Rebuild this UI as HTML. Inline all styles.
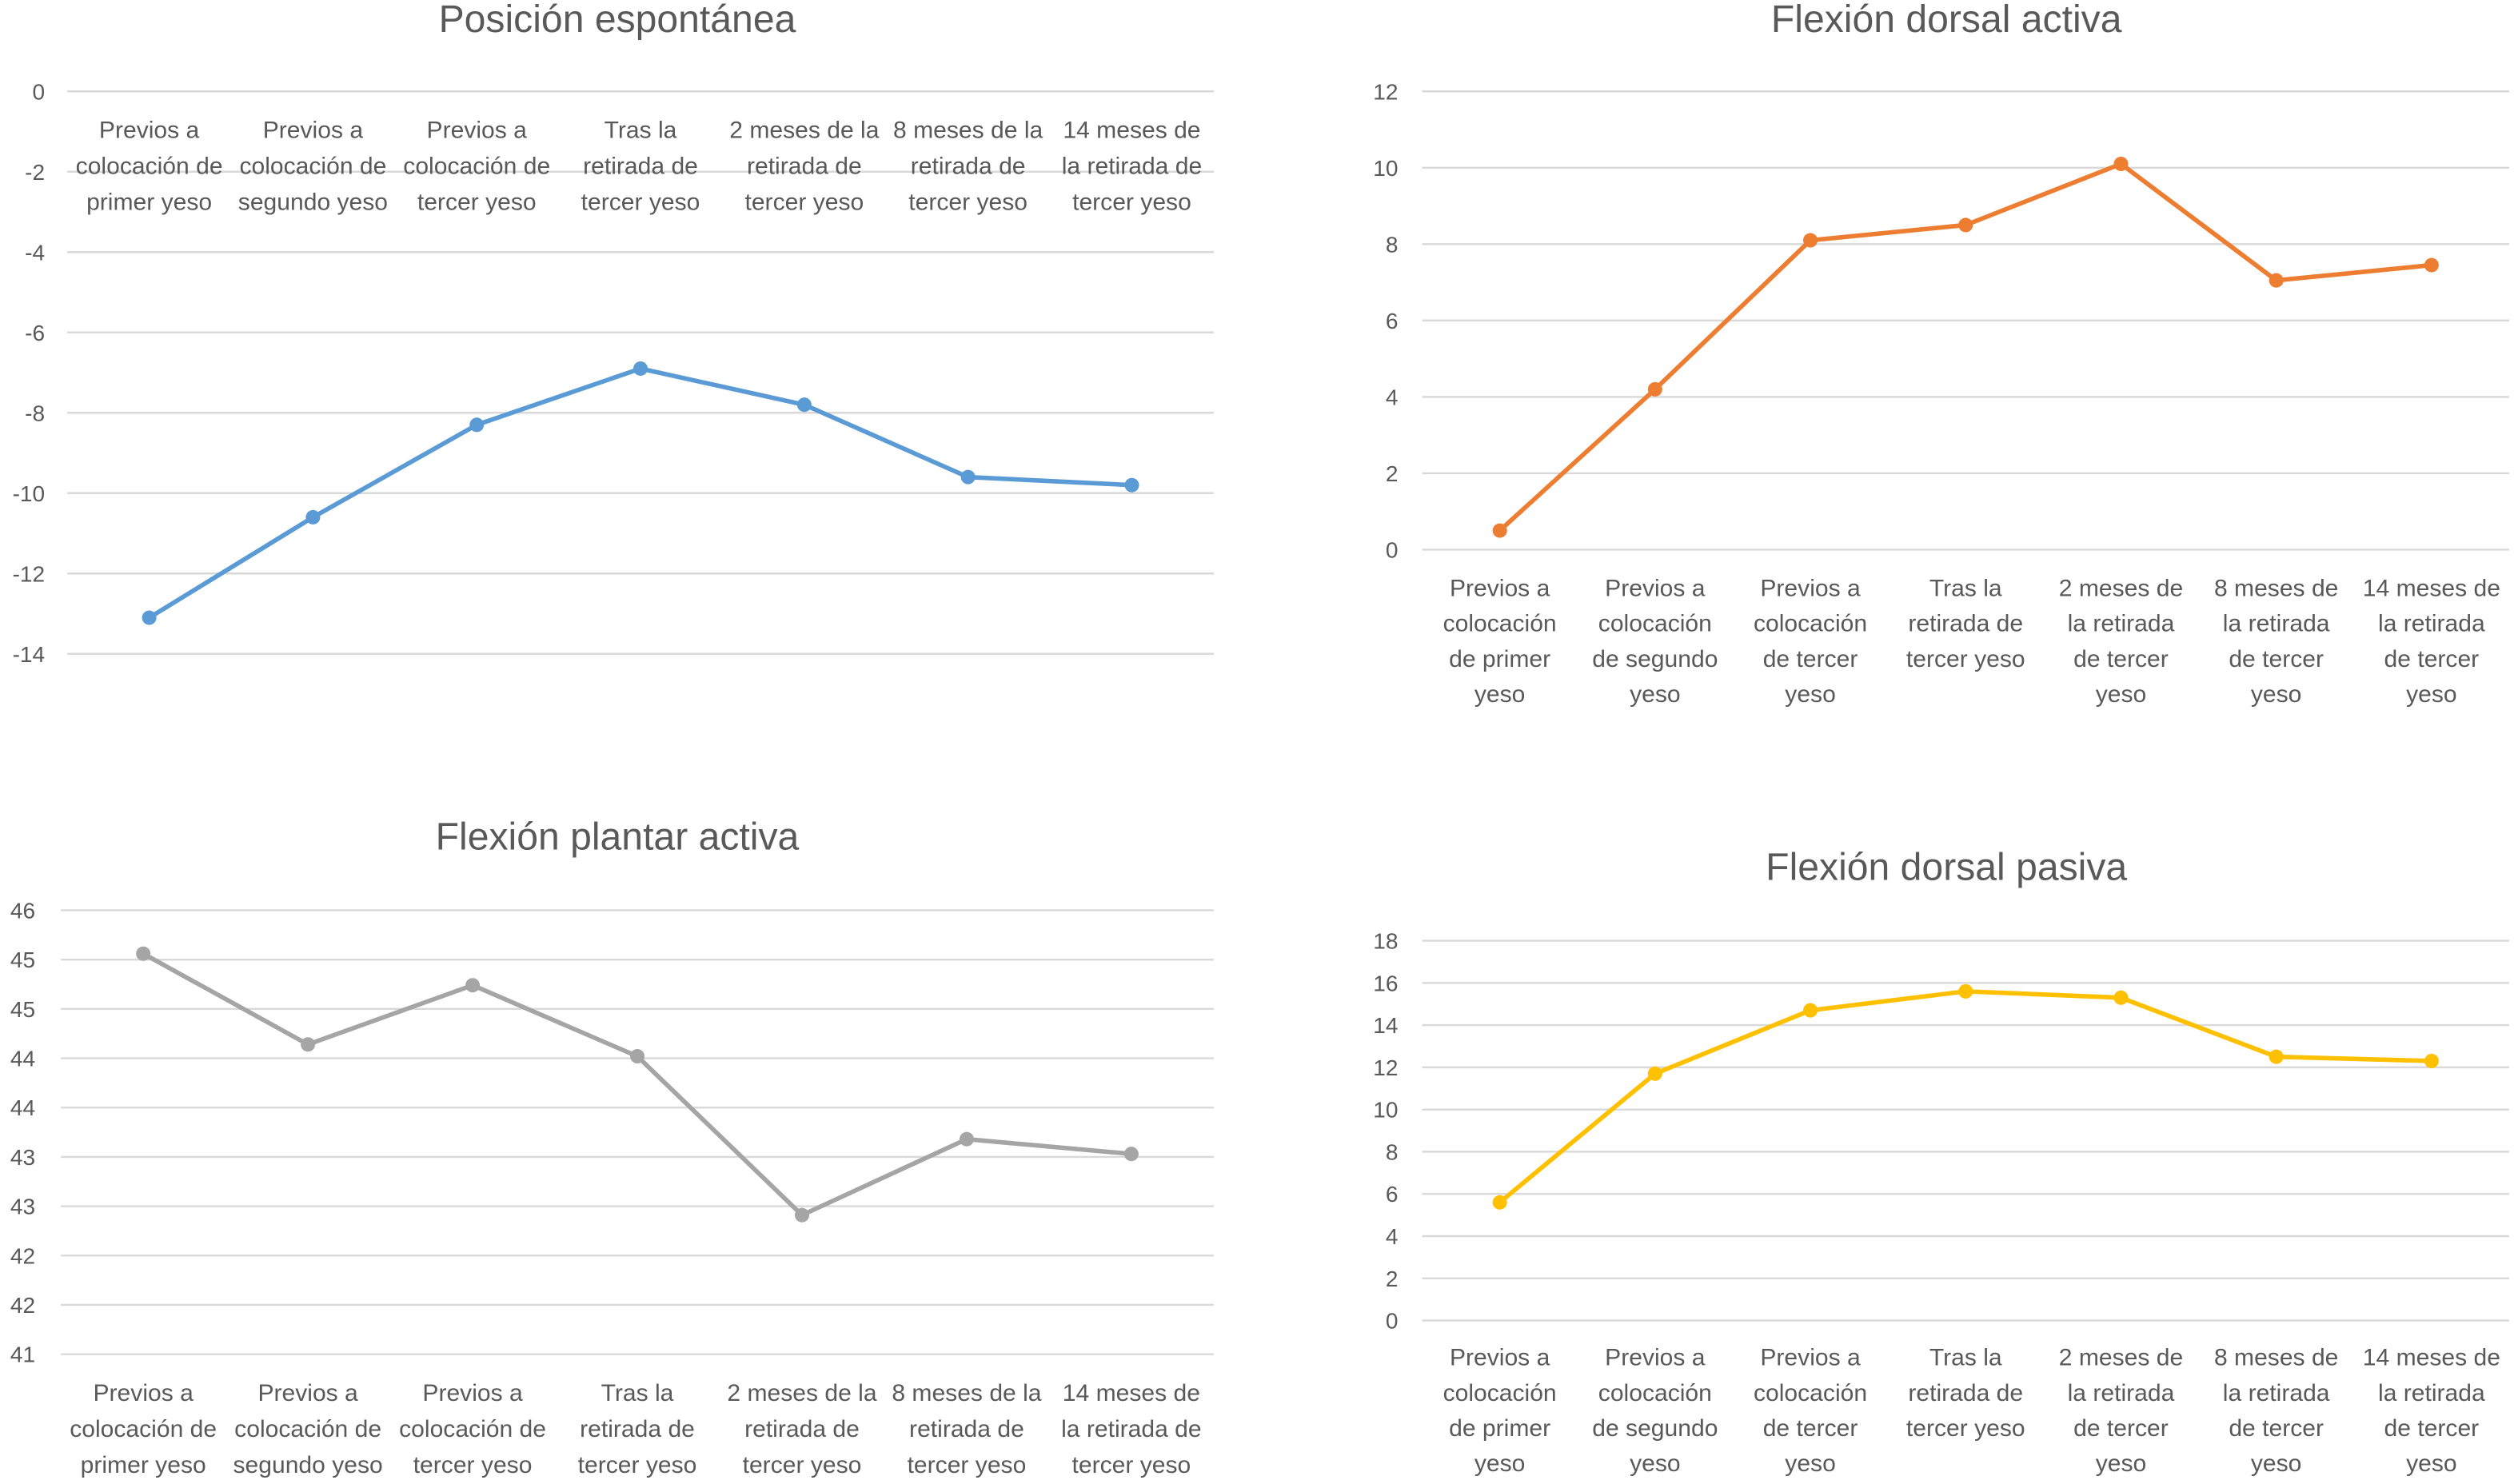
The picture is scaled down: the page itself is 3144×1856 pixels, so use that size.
<!DOCTYPE html>
<html><head><meta charset="utf-8">
<style>
html,body{margin:0;padding:0;background:#fff;}
svg{display:block;font-family:"Liberation Sans",sans-serif;}
</style></head>
<body>
<svg id="chart" width="3144" height="1856" viewBox="0 0 1568 926" preserveAspectRatio="none" xmlns="http://www.w3.org/2000/svg"></svg>
<script>
const categoriesA = [["Previos a","colocación de","primer yeso"],["Previos a","colocación de","segundo yeso"],["Previos a","colocación de","tercer yeso"],["Tras la","retirada de","tercer yeso"],["2 meses de la","retirada de","tercer yeso"],["8 meses de la","retirada de","tercer yeso"],["14 meses de","la retirada de","tercer yeso"]];
const categoriesB = [["Previos a","colocación","de primer","yeso"],["Previos a","colocación","de segundo","yeso"],["Previos a","colocación","de tercer","yeso"],["Tras la","retirada de","tercer yeso"],["2 meses de","la retirada","de tercer","yeso"],["8 meses de","la retirada","de tercer","yeso"],["14 meses de","la retirada","de tercer","yeso"]];
const posicionValues = [-13.1, -10.6, -8.3, -6.9, -7.8, -9.6, -9.8];
const posicionTicks = [0, -2, -4, -6, -8, -10, -12, -14];
const plantarValues = [45.56, 44.64, 45.24, 44.52, 42.91, 43.68, 43.53];
const plantarTickValues = [46, 45.5, 45, 44.5, 44, 43.5, 43, 42.5, 42, 41.5];
const plantarTickLabels = ["46","45","45","44","44","43","43","42","42","41"];
const dorsalActivaValues = [0.5, 4.2, 8.1, 8.5, 10.1, 7.05, 7.45];
const dorsalActivaTicks = [12, 10, 8, 6, 4, 2, 0];
const dorsalPasivaValues = [5.6, 11.7, 14.7, 15.6, 15.3, 12.5, 12.3];
const dorsalPasivaTicks = [18, 16, 14, 12, 10, 8, 6, 4, 2, 0];

const svg = document.getElementById('chart');
const NS = 'http://www.w3.org/2000/svg';
function mk(tag, attrs, parent){const e=document.createElementNS(NS,tag);for(const k in attrs)e.setAttribute(k,attrs[k]);parent.appendChild(e);return e;}

function drawChart(cfg){
  const g = mk('g',{},svg);
  
  
  const yS = v => cfg.yTop + (cfg.max - v) / (cfg.max - cfg.min) * (cfg.yBot - cfg.yTop);
  const step = (cfg.x1 - cfg.x0) / cfg.values.length;
  const xS = i => cfg.x0 + step * (i + 0.5);
  const t = mk('text',{x:cfg.titleX,y:cfg.titleY,'text-anchor':'middle','font-size':24,fill:'#595959'},g);
  t.textContent = cfg.title;
  
  
  cfg.tickVals.forEach((v,i)=>{
    const y = yS(v);
    const l = mk('line',{x1:cfg.x0,x2:cfg.x1,y1:y,y2:y,stroke:'#d9d9d9','stroke-width':1.2},g);
    
    
    const tx = mk('text',{x:cfg.labelX,y:y+5,'text-anchor':'end','font-size':14,fill:'#595959'},g);
    tx.textContent = cfg.tickLabels[i];
    
    
  });
  cfg.cats.forEach((lines,i)=>{
    lines.forEach((s,j)=>{
      const tx = mk('text',{x:xS(i),y:cfg.catY + j*cfg.catLH,'text-anchor':'middle','font-size':15,fill:'#595959'},g);
      tx.textContent = s;
      
      
    });
  });
  const pts = cfg.values.map((v,i)=>xS(i)+','+yS(v)).join(' ');
  const pl = mk('polyline',{points:pts,fill:'none',stroke:cfg.color,'stroke-width':2.8,'stroke-linejoin':'round'},g);
  
  
  cfg.values.forEach((v,i)=>{
    const c = mk('circle',{cx:xS(i),cy:yS(v),r:4.5,fill:cfg.color},g);
    
    
  });
}

drawChart({name:'posicion-espontanea-chart',title:'Posición espontánea',titleX:385,titleY:20,x0:42,x1:757,yTop:57,yBot:408,max:0,min:-14,values:posicionValues,tickVals:posicionTicks,tickLabels:posicionTicks.map(String),labelX:28,cats:categoriesA,catY:86,catLH:22.5,color:'#5b9bd5'});
drawChart({name:'flexion-plantar-activa-chart',title:'Flexión plantar activa',titleX:385,titleY:530,x0:38,x1:757,yTop:568,yBot:845,max:46,min:41.5,values:plantarValues,tickVals:plantarTickValues,tickLabels:plantarTickLabels,labelX:22,cats:categoriesA,catY:874,catLH:22.5,color:'#a5a5a5'});
drawChart({name:'flexion-dorsal-activa-chart',title:'Flexión dorsal activa',titleX:1214,titleY:20,x0:887,x1:1565,yTop:57,yBot:343,max:12,min:0,values:dorsalActivaValues,tickVals:dorsalActivaTicks,tickLabels:dorsalActivaTicks.map(String),labelX:872,cats:categoriesB,catY:372,catLH:22,color:'#ed7d31'});
drawChart({name:'flexion-dorsal-pasiva-chart',title:'Flexión dorsal pasiva',titleX:1214,titleY:549,x0:887,x1:1565,yTop:587,yBot:824,max:18,min:0,values:dorsalPasivaValues,tickVals:dorsalPasivaTicks,tickLabels:dorsalPasivaTicks.map(String),labelX:872,cats:categoriesB,catY:852,catLH:22,color:'#ffc000'});
</script>
</body></html>
